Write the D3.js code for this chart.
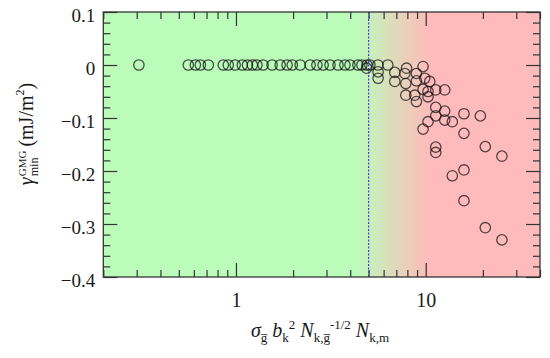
<!DOCTYPE html>
<html>
<head>
  <meta charset="utf-8" />
  <title>gamma min GMG</title>
  <style>
    body { margin: 0; background: #fff; }
    svg text { font-family: "Liberation Serif", "DejaVu Serif", "Times New Roman", serif !important; fill: #1a1a1a; }
    .axis line { stroke: #333; stroke-width: 1.2; }
    .axis path { display: none; }
  </style>
  <script src="https://cdnjs.cloudflare.com/ajax/libs/d3/7.8.5/d3.min.js"></script>
</head>
<body>
  <div id="chart"></div>
  <script>
    // x values (sigma_g b_k^2 N_k,g^-1/2 N_k,m) and y values (gamma_min^GMG, mJ/m^2)
    var sigmaVals = [
      0.308, 0.561, 0.611, 0.649, 0.715, 0.858, 0.911, 0.99, 1.08, 1.15,
      1.22, 1.29, 1.39, 1.55, 1.71, 1.86, 1.98, 2.18, 2.46, 2.67,
      2.88, 3.13, 3.45, 3.75, 3.99, 4.39, 4.61, 4.90, 5.08, 5.60, 6.31,
      4.88, 5.61, 5.61, 6.87, 6.87, 7.76, 7.92, 7.85, 7.85, 8.93,
      8.93, 8.75, 8.93, 9.68, 9.88, 10.5, 9.68, 10.28, 10.28, 11.29,
      12.59, 11.29, 12.59, 11.29, 10.28, 12.59, 13.8, 9.68, 15.9, 19.4,
      15.9, 11.29, 11.29, 20.6, 25.2, 15.9, 13.8, 15.9, 20.6, 25.2
    ];
    var gammaVals = [
      0, 0, 0, 0, 0, 0, 0, 0, 0, 0,
      0, 0, 0, 0, 0, 0, 0, 0, 0, 0,
      0, 0, 0, 0, 0, 0, 0, 0, 0, 0, 0,
      -0.006, -0.013, -0.025, -0.014, -0.031, -0.016, -0.006, -0.035, -0.057, -0.016,
      -0.030, -0.057, -0.069, -0.003, -0.025, -0.031, -0.046, -0.050, -0.060, -0.047,
      -0.047, -0.080, -0.087, -0.096, -0.107, -0.104, -0.107, -0.121, -0.092, -0.096,
      -0.129, -0.155, -0.165, -0.154, -0.172, -0.198, -0.209, -0.256, -0.307, -0.330
    ];
    var xMajor = [1, 10];
    var xMinor = [0.2, 0.3, 0.4, 0.5, 0.6, 0.7, 0.8, 0.9, 2, 3, 4, 5, 6, 7, 8, 9, 20, 30, 40];
    var yMajor = [0.1, 0, -0.1, -0.2, -0.3, -0.4];
    var yMinor = [0.08, 0.06, 0.04, 0.02, -0.02, -0.04, -0.06, -0.08, -0.12, -0.14, -0.16, -0.18,
      -0.22, -0.24, -0.26, -0.28, -0.32, -0.34, -0.36, -0.38];
    var xDomain = [0.2, 40], yDomain = [-0.4, 0.1];
    var cutoff = 5;          // dashed line
    var fadeRange = [4.3, 10.5]; // green -> red transition

    var W = 550, H = 358;
    var pLeft = 103.3, pRight = 540, pTop = 12, pBottom = 277;
    var serif = '"Liberation Serif", "DejaVu Serif", serif';

    var x = d3.scaleLog().domain(xDomain).range([pLeft, pRight]);
    var y = d3.scaleLinear().domain(yDomain).range([pBottom, pTop]);

    var svg = d3.select('#chart').append('svg')
      .attr('width', W)
      .attr('height', H)
      .style('font-family', serif);

    // background gradient
    var grad = svg.append('defs').append('linearGradient')
      .attr('id', 'bg')
      .attr('gradientUnits', 'userSpaceOnUse')
      .attr('x1', x(fadeRange[0])).attr('x2', x(fadeRange[1]))
      .attr('y1', 0).attr('y2', 0);
    grad.append('stop').attr('offset', 0).attr('stop-color', '#bbfcbb');
    grad.append('stop').attr('offset', 1).attr('stop-color', '#ffbbbb');

    svg.append('rect')
      .attr('x', pLeft).attr('y', pTop)
      .attr('width', pRight - pLeft).attr('height', pBottom - pTop)
      .attr('fill', 'url(#bg)');

    // ticks, all inward, on four sides
    function ax(gen, vals, size, tr, fmt, pad) {
      var g = svg.append('g').attr('class', 'axis').attr('transform', tr)
        .call(gen.tickValues(vals).tickSizeInner(-size).tickSizeOuter(0)
          .tickPadding(pad || 3).tickFormat(fmt || ''));
      g.attr('font-family', null);
      return g;
    }
    ax(d3.axisBottom(x), xMinor, 7, 'translate(0,' + pBottom + ')');
    ax(d3.axisTop(x), xMinor, 7, 'translate(0,' + pTop + ')');
    ax(d3.axisTop(x), xMajor, 14, 'translate(0,' + pTop + ')');
    ax(d3.axisLeft(y), yMinor, 7, 'translate(' + pLeft + ',0)');
    ax(d3.axisRight(y), yMinor, 7, 'translate(' + pRight + ',0)');
    ax(d3.axisRight(y), yMajor, 14, 'translate(' + pRight + ',0)');

    var bx = ax(d3.axisBottom(x), xMajor, 14, 'translate(0,' + pBottom + ')', d3.format('d'), 16);
    bx.selectAll('text').style('font-size', '20px').style('font-family', serif).attr('fill', '#1a1a1a');
    var ly = ax(d3.axisLeft(y), yMajor, 14, 'translate(' + pLeft + ',0)',
      function (d) { return d === 0 ? '0' : d3.format('.1f')(d).replace('-', '\u2212'); }, 8);
    ly.selectAll('text').style('font-size', '19px').style('font-family', serif)
      .attr('dy', '0.5em').attr('fill', '#1a1a1a');

    // dashed cutoff line
    svg.append('line')
      .attr('x1', x(cutoff)).attr('x2', x(cutoff))
      .attr('y1', pTop).attr('y2', pBottom)
      .attr('stroke', '#3347e6')
      .attr('stroke-width', 1.2)
      .attr('stroke-dasharray', '2,1.5');

    // points
    svg.append('g').selectAll('circle')
      .data(sigmaVals)
      .enter()
      .append('circle')
      .attr('cx', function (d) { return x(d); })
      .attr('cy', function (d, i) { return y(gammaVals[i]); })
      .attr('r', 5.2)
      .attr('fill', 'none')
      .attr('stroke', '#111')
      .attr('stroke-opacity', 0.72)
      .attr('stroke-width', 1.3);

    // frame
    svg.append('rect')
      .attr('x', pLeft).attr('y', pTop)
      .attr('width', pRight - pLeft).attr('height', pBottom - pTop)
      .attr('fill', 'none').attr('stroke', '#333').attr('stroke-width', 1.3);

    // rich text helper: pieces laid out one after another
    function rich(g, parts) {
      var cx = 0, held = 0;
      parts.forEach(function (p) {
        var t = g.append('text')
          .attr('x', cx).attr('y', p.shift || 0)
          .style('font-family', serif)
          .style('font-size', p.size + 'px')
          .style('font-style', p.italic ? 'italic' : 'normal')
          .text(p.t);
        var w = t.node().getComputedTextLength();
        if (p.hold) { held = w; return; }
        cx += Math.max(w, held) + (p.gap || 0);
        held = 0;
      });
      return cx;
    }

    // x title
    var xt = svg.append('g');
    var xw = rich(xt, [
      { t: 'σ', size: 20, italic: true },
      { t: 'g\u0305', size: 13, shift: 5, gap: 5 },
      { t: 'b', size: 20, italic: true },
      { t: 'k', size: 13, shift: 5 },
      { t: '2', size: 13, shift: -8, gap: 5 },
      { t: 'N', size: 20, italic: true },
      { t: 'k,g\u0305', size: 13, shift: 5 },
      { t: '-1/2', size: 13, shift: -8, gap: 5 },
      { t: 'N', size: 20, italic: true },
      { t: 'k,m', size: 13, shift: 5 }
    ]);
    xt.attr('transform', 'translate(' + (320 - xw / 2) + ',337)');

    // y title
    var yt = svg.append('g');
    var yw = rich(yt, [
      { t: 'γ', size: 20, italic: true, gap: 1 },
      { t: 'GMG', size: 11, shift: -7, hold: true },
      { t: 'min', size: 12, shift: 5, gap: 4 },
      { t: '(mJ/m', size: 20 },
      { t: '2', size: 12, shift: -9 },
      { t: ')', size: 20 }
    ]);
    yt.attr('transform', 'translate(33,' + (134 + yw / 2) + ') rotate(-90)');
  </script>
</body>
</html>
